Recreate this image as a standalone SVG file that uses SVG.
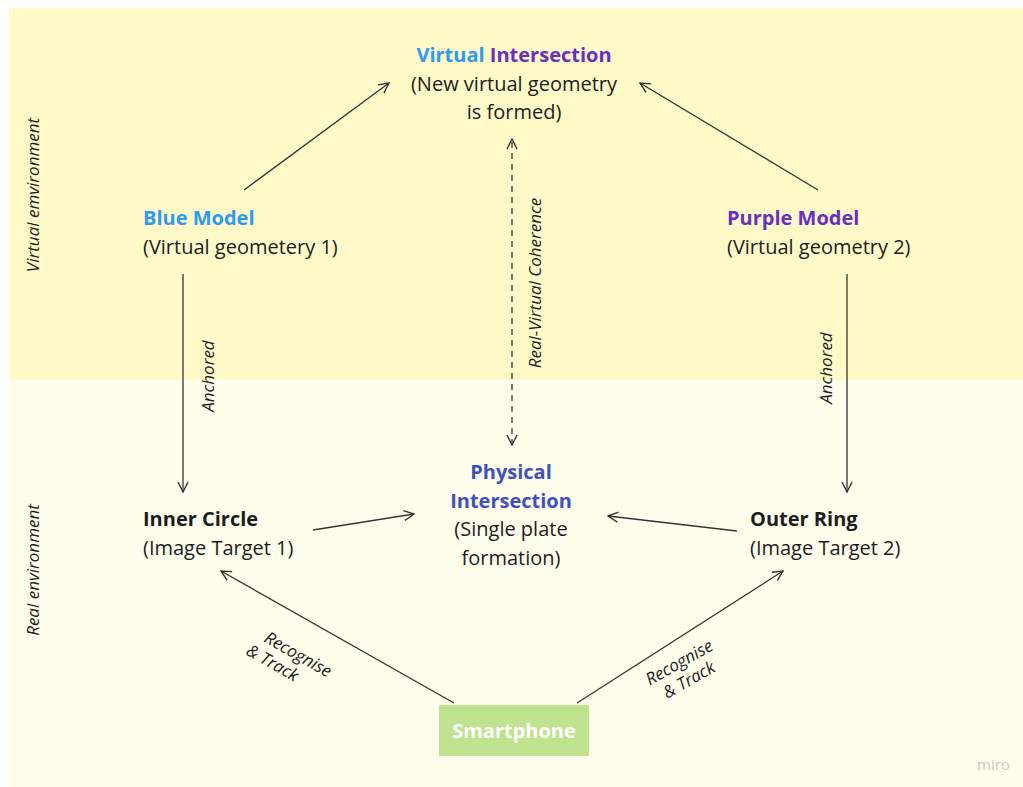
<svg xmlns="http://www.w3.org/2000/svg" width="1023" height="787" viewBox="0 0 1023 787">
  <defs>
    <marker id="open" viewBox="0 0 12 12" refX="11" refY="6" markerWidth="12" markerHeight="12" markerUnits="userSpaceOnUse" orient="auto-start-reverse">
      <path d="M1,1 L11,6 L1,11" fill="none" stroke="#333" stroke-width="1.4"/>
    </marker>
  </defs>
  <style>
    text { font-family: "Open Sans", "Noto Sans", sans-serif; fill: #1c1c1c; }
    .t { font-size: 20px; }
    .b { font-weight: 700; }
    .m { text-anchor: middle; }
    .lab { font-size: 17px; font-style: italic; }
    .conn { fill: none; stroke: #333; stroke-width: 1.3; marker-end: url(#open); }
    .blue { fill: #2d9bf0; }
    .purple { fill: #6a2fc0; }
    .indigo { fill: #3f51c0; }
  </style>

  <rect width="1023" height="787" fill="#ffffff"/>
  <!-- environment bands -->
  <rect x="9" y="8" width="1014" height="372" fill="#fffac8"/>
  <rect x="9" y="380" width="1014" height="407" fill="#fffeed"/>
  <text class="lab" transform="translate(39,195) rotate(-90)" text-anchor="middle">Virtual emvironment</text>
  <text class="lab" transform="translate(39,570) rotate(-90)" text-anchor="middle">Real environment</text>

  <g id="connectors">
    <line class="conn" x1="244" y1="190" x2="389" y2="83"/>
    <line class="conn" x1="818" y1="190" x2="640" y2="83"/>
    <line class="conn" x1="512" y1="445" x2="512" y2="139" stroke-dasharray="6,5" style="marker-start:url(#open)"/>
    <line class="conn" x1="183" y1="274" x2="183" y2="492"/>
    <line class="conn" x1="847" y1="274" x2="847" y2="492"/>
    <line class="conn" x1="313" y1="530" x2="414" y2="514"/>
    <line class="conn" x1="737" y1="531" x2="608" y2="516"/>
    <line class="conn" x1="454" y1="703" x2="221" y2="571"/>
    <line class="conn" x1="577" y1="703" x2="783" y2="571"/>
    <text class="lab" transform="translate(214,376) rotate(-90)" text-anchor="middle">Anchored</text>
    <text class="lab" transform="translate(832,368) rotate(-90)" text-anchor="middle">Anchored</text>
    <text class="lab" transform="translate(541,283) rotate(-90)" text-anchor="middle">Real-Virtual Coherence</text>
    <g transform="translate(288,660) rotate(29.5)">
      <text class="lab" x="6" y="-4" text-anchor="middle">Recognise</text>
      <text class="lab" x="-12" y="16" text-anchor="middle">&amp; Track</text>
    </g>
    <g transform="translate(684,671) rotate(-29.5)">
      <text class="lab" x="0" y="-4" text-anchor="middle">Recognise</text>
      <text class="lab" x="0" y="16" text-anchor="middle">&amp; Track</text>
    </g>
  </g>

  <g id="virtual-intersection">
    <text class="t b m" x="514" y="62"><tspan class="blue">Virtual</tspan> <tspan class="purple">Intersection</tspan></text>
    <text class="t m" x="514" y="91">(New virtual geometry</text>
    <text class="t m" x="514" y="119">is formed)</text>
  </g>

  <g id="blue-model">
    <text class="t b blue" x="143" y="225">Blue Model</text>
    <text class="t" x="143" y="254">(Virtual geometery 1)</text>
  </g>

  <g id="purple-model">
    <text class="t b purple" x="727" y="225">Purple Model</text>
    <text class="t" x="727" y="254">(Virtual geometry 2)</text>
  </g>

  <g id="inner-circle">
    <text class="t b" x="143" y="526">Inner Circle</text>
    <text class="t" x="143" y="555">(Image Target 1)</text>
  </g>

  <g id="physical-intersection">
    <text class="t b m indigo" x="511" y="479">Physical</text>
    <text class="t b m indigo" x="511" y="508">Intersection</text>
    <text class="t m" x="511" y="536">(Single plate</text>
    <text class="t m" x="511" y="565">formation)</text>
  </g>

  <g id="outer-ring">
    <text class="t b" x="750" y="526">Outer Ring</text>
    <text class="t" x="750" y="555">(Image Target 2)</text>
  </g>

  <g id="smartphone">
    <rect x="439" y="705" width="150" height="51" fill="#c0e38f"/>
    <text class="t b m" x="514" y="738" style="fill:#ffffff">Smartphone</text>
  </g>

  <text x="977" y="770" style="font-size:15px;fill:#c8c8c8">miro</text>
</svg>
